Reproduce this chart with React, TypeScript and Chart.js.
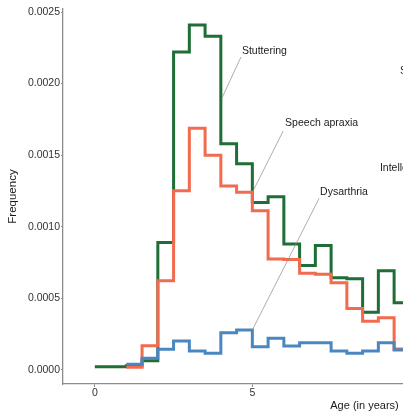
import React, { useEffect, useRef } from "react";
import { Chart, registerables } from "chart.js";

Chart.register(...registerables);

// Bin edges (years), 0.5-year bins
const binEdges = [0, 0.5, 1, 1.5, 2, 2.5, 3, 3.5, 4, 4.5, 5, 5.5, 6, 6.5, 7, 7.5, 8, 8.5, 9, 9.5, 10];

// Frequency per bin (null = no data)
const stuttering = [0.000023, 0.000023, 0.00003, 0.000065, 0.00089, 0.00222, 0.00241, 0.00233, 0.00158, 0.00144, 0.00117, 0.00121, 0.00088, 0.00073, 0.00087, 0.000645, 0.000638, 0.000403, 0.000693, 0.00047];
const speechApraxia = [null, null, 0.000019, 0.00017, 0.000624, 0.001252, 0.001688, 0.0015, 0.001285, 0.001241, 0.001112, 0.000775, 0.000772, 0.000675, 0.000668, 0.00061, 0.00043, 0.00034, 0.000365, 0.000147];
const dysarthria = [null, null, 0.00004, 0.000082, 0.000145, 0.000203, 0.000133, 0.000117, 0.00026, 0.00028, 0.000163, 0.000221, 0.000168, 0.00019, 0.00019, 0.000133, 0.000117, 0.000133, 0.00019, 0.00014];

const yTicks = [0, 0.0005, 0.001, 0.0015, 0.002, 0.0025];
const xTicks = [0, 5, 10, 15];

// Direct labels: text position and leader line (data coordinates)
const labelTexts = ["Stuttering", "Speech apraxia", "Dysarthria", "Intellectual disability", "Speech sound disorder"];
const labelX = [4.67, 6.04, 7.15, 9.05, 9.69];
const labelY = [0.002228, 0.001725, 0.00124, 0.00141, 0.002088];
const leaderFrom = [[4.64, 0.002186], [5.98, 0.001669], [7.12, 0.001199], null, null];
const leaderTo = [[4.03, 0.001897], [5.01, 0.001245], [5.01, 0.000284], null, null];

const toPoints = (vals: (number | null)[]) =>
  binEdges.map((x, i) => ({ x, y: i < vals.length ? vals[i] : vals[vals.length - 1] }));

const FONT = "'Liberation Sans', Arial, sans-serif";

const labelPlugin = {
  id: "directLabels",
  afterDatasetsDraw(chart: any) {
    const { ctx, scales } = chart;
    const xs = scales.x;
    const ys = scales.y;
    ctx.save();
    ctx.strokeStyle = "#8a8a8a";
    ctx.lineWidth = 0.7;
    leaderFrom.forEach((f, i) => {
      const t = leaderTo[i];
      if (!f || !t) return;
      ctx.beginPath();
      ctx.moveTo(xs.getPixelForValue(f[0]), ys.getPixelForValue(f[1]));
      ctx.lineTo(xs.getPixelForValue(t[0]), ys.getPixelForValue(t[1]));
      ctx.stroke();
    });
    ctx.fillStyle = "#1a1a1a";
    ctx.font = `10.5px ${FONT}`;
    ctx.textAlign = "left";
    ctx.textBaseline = "middle";
    labelTexts.forEach((txt, i) => {
      ctx.fillText(txt, xs.getPixelForValue(labelX[i]), ys.getPixelForValue(labelY[i]));
    });
    ctx.restore();
  },
};

export default function App() {
  const ref = useRef<HTMLCanvasElement>(null);
  useEffect(() => {
    document.body.style.margin = "0";
    const canvas = ref.current!;
    const chart = new Chart(canvas, {
      type: "line",
      data: {
        datasets: [
          {
            label: "Dysarthria",
            data: toPoints(dysarthria),
            borderColor: "#4a87c0",
            borderWidth: 3,
            stepped: "before",
            pointRadius: 0,
            fill: false,
          },
          {
            label: "Speech apraxia",
            data: toPoints(speechApraxia),
            borderColor: "#f26b4e",
            borderWidth: 3,
            stepped: "before",
            pointRadius: 0,
            fill: false,
          },
          {
            label: "Stuttering",
            data: toPoints(stuttering),
            borderColor: "#1f6e37",
            borderWidth: 3,
            stepped: "before",
            pointRadius: 0,
            fill: false,
          },
        ],
      },
      options: {
        responsive: false,
        animation: false,
        layout: { padding: { top: 9, left: 0, right: 0, bottom: 0 } },
        plugins: { legend: { display: false }, tooltip: { enabled: false } },
        scales: {
          x: {
            type: "linear",
            min: -1.01,
            max: 18.13,
            afterBuildTicks: (s: any) => {
              s.ticks = xTicks.map((v) => ({ value: v }));
            },
            afterFit: (s: any) => {
              s.height = 31;
            },
            ticks: {
              color: "#333",
              font: { family: FONT, size: 10.5 },
              padding: 0,
              maxRotation: 0,
              callback: (v: any) => String(v),
            },
            grid: { drawOnChartArea: false, drawTicks: true, tickLength: 3, color: "#8c8c8c" },
            border: { display: true, color: "#8c8c8c", width: 1.3 },
            title: {
              display: true,
              text: "Age (in years)",
              color: "#1a1a1a",
              font: { family: FONT, size: 11 },
              padding: { top: 0, bottom: 2.5 },
            },
          },
          y: {
            type: "linear",
            min: -0.0000978,
            max: 0.002521,
            afterBuildTicks: (s: any) => {
              s.ticks = yTicks.map((v) => ({ value: v }));
            },
            afterFit: (s: any) => {
              s.width = 63;
            },
            ticks: {
              color: "#333",
              font: { family: FONT, size: 10.5 },
              padding: 1,
              callback: (v: any) => Number(v).toFixed(4),
            },
            grid: { drawOnChartArea: false, drawTicks: true, tickLength: 2, color: "#8c8c8c" },
            border: { display: true, color: "#8c8c8c", width: 1.3 },
            title: {
              display: true,
              text: "Frequency",
              color: "#1a1a1a",
              font: { family: FONT, size: 11.5 },
              padding: { top: 5.5, bottom: 0 },
            },
          },
        },
      },
      plugins: [labelPlugin],
    });
    return () => chart.destroy();
  }, []);

  return (
    <div style={{ position: "fixed", left: 0, top: 0, width: 403, height: 415, overflow: "hidden", background: "#fff" }}>
      <canvas ref={ref} width={666} height={415} style={{ display: "block" }} />
    </div>
  );
}
